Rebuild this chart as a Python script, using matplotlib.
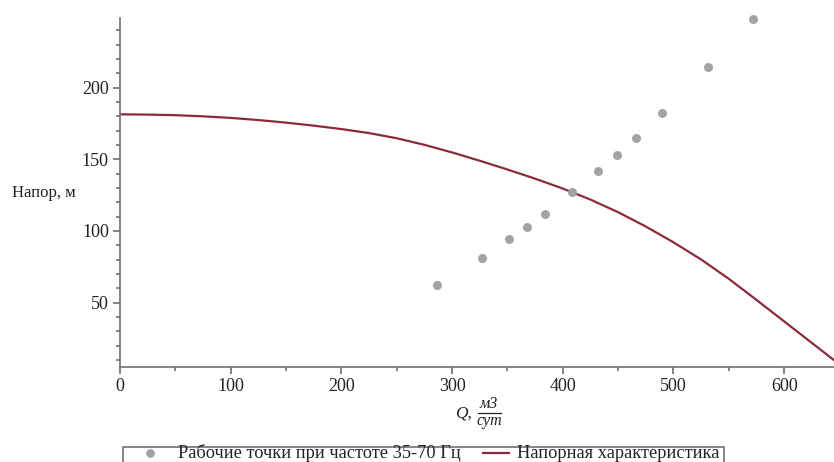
import matplotlib
matplotlib.use("Agg")
import matplotlib.pyplot as plt
from matplotlib.ticker import MultipleLocator
from matplotlib.patches import Rectangle
from matplotlib.lines import Line2D

plt.rcParams['font.family'] = ['Liberation Serif', 'DejaVu Serif']

# Рабочие точки (Q, м3/сут ; Напор, м)
points_q = [286, 327, 351, 368, 384, 408, 432, 449, 466, 490, 531, 572]
points_h = [62, 81, 94, 103, 112, 127, 142, 153, 165, 182, 214, 248]

# Напорная характеристика
curve_q = [0, 25, 50, 75, 100, 125, 150, 175, 200, 225, 250, 275, 300, 325, 350,
           375, 400, 425, 450, 475, 500, 525, 550, 575, 600, 625, 645]
curve_h = [181.3, 181.1, 180.7, 179.9, 178.8, 177.3, 175.5, 173.4, 171.0, 168.2,
           164.6, 160.0, 154.7, 148.9, 142.8, 136.4, 129.5, 121.8, 113.0, 103.0,
           92.0, 80.0, 66.5, 51.8, 36.8, 21.8, 9.8]

label_points = "Рабочие точки при частоте 35-70 Гц"
label_curve = "Напорная характеристика"

W, H = 834, 462
fig = plt.figure(figsize=(W/100, H/100), dpi=100)
ax = fig.add_axes([120/W, 1-367/H, 1-120/W, (367-18)/H])

point_color = '#a3a3a3'
line_color = '#8c2a3c'
text_color = '#222222'

ax.scatter(points_q, points_h, s=42, color=point_color, zorder=3, clip_on=False,
           linewidths=0)
ax.plot(curve_q, curve_h, color=line_color, lw=1.6, solid_joinstyle='round')

ax.set_xlim(0, 645)
ax.set_ylim(5, 248.5)
for s in ['top', 'right']:
    ax.spines[s].set_visible(False)
for s in ['left', 'bottom']:
    ax.spines[s].set_color('#707070')
    ax.spines[s].set_linewidth(1.2)

ax.xaxis.set_major_locator(MultipleLocator(100))
ax.xaxis.set_minor_locator(MultipleLocator(50))
ax.yaxis.set_major_locator(MultipleLocator(50))
ax.yaxis.set_minor_locator(MultipleLocator(10))
ax.tick_params(which='major', direction='out', length=5, width=1.2, color='#707070',
               labelsize=13, labelcolor=text_color, pad=3)
ax.tick_params(which='minor', direction='out', length=3, width=1.2, color='#707070')

def fx(px):
    return px / W

def fy(py):
    return 1 - py / H

# y label
fig.text(fx(12), fy(193), "Напор, м", fontsize=12, va='center', ha='left', color=text_color)

# x label: Q, м3/сут as a built fraction
fig.text(fx(463), fy(413), "Q,", fontsize=12.5, style='italic', ha='center', va='center',
         color=text_color)
fig.text(fx(489), fy(404), "м3", fontsize=11.5, style='italic', ha='center', va='center',
         color=text_color)
fig.text(fx(489), fy(421), "сут", fontsize=11.5, style='italic', ha='center', va='center',
         color=text_color)
fig.add_artist(Line2D([fx(478), fx(501)], [fy(412.5), fy(412.5)], color=text_color, lw=0.9))

# legend box (bottom, partly outside the picture as in the reference)
fig.add_artist(Rectangle((fx(123), fy(472)), fx(724) - fx(123), fy(447) - fy(472),
                         transform=fig.transFigure, fill=False, edgecolor='#707070', lw=1.2))
fig.add_artist(Line2D([fx(150)], [fy(453)], marker='o', markersize=6.3, color=point_color,
                      markeredgewidth=0, linestyle='none'))
fig.text(fx(178), fy(458.5), label_points, fontsize=13.2, ha='left', va='baseline',
         color=text_color)
fig.add_artist(Line2D([fx(483), fx(509)], [fy(452.5), fy(452.5)], color=line_color, lw=1.6))
fig.text(fx(517), fy(458.5), label_curve, fontsize=13.2, ha='left', va='baseline',
         color=text_color)

fig.savefig("out.png", dpi=100)
